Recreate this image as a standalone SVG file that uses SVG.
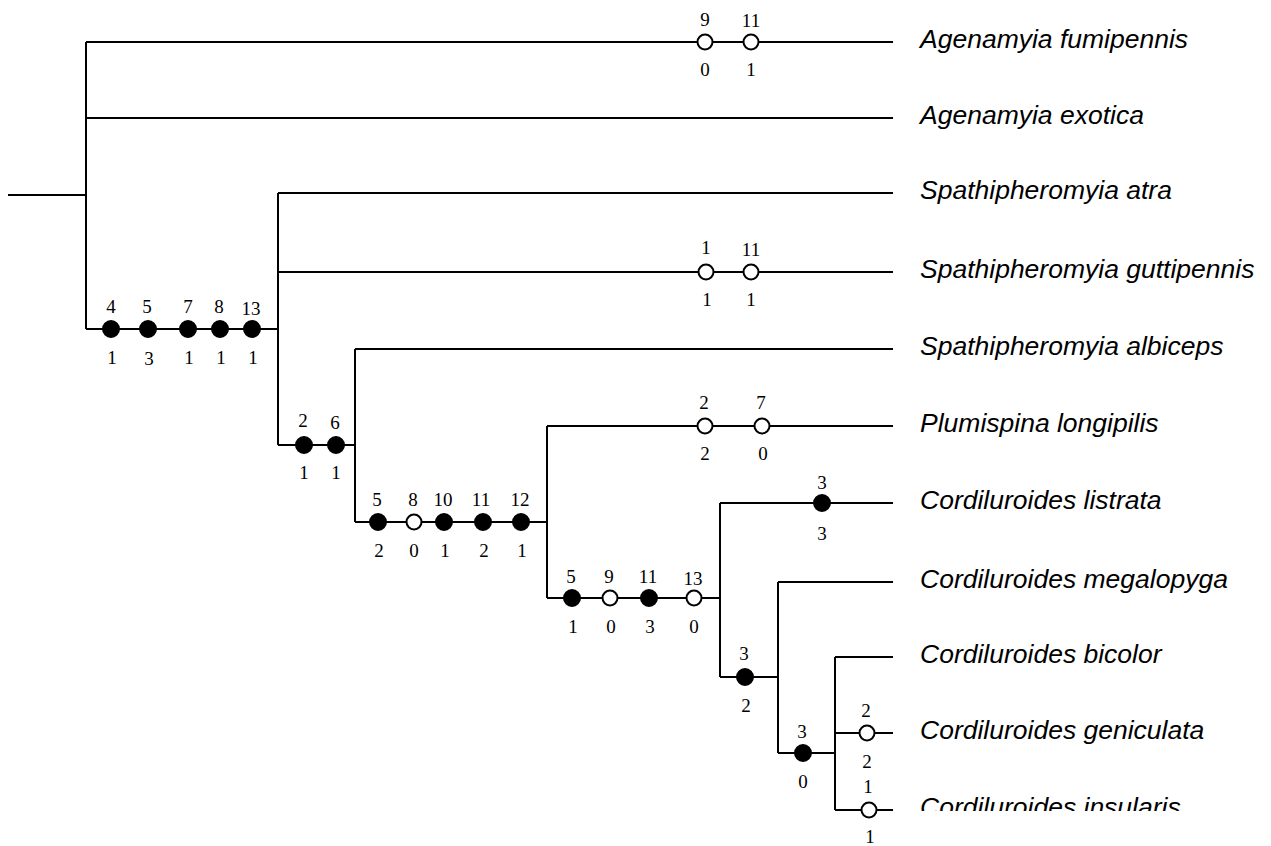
<svg xmlns="http://www.w3.org/2000/svg" width="1271" height="846" viewBox="0 0 1271 846">
<style>
.br{stroke:#000;stroke-width:2;fill:none}
.f{fill:#000;stroke:#000;stroke-width:2}
.o{fill:#fff;stroke:#000;stroke-width:2}
.n{font-family:"Liberation Serif","Times New Roman",serif;font-size:19px;fill:#000;text-anchor:middle}
.t{font-family:"Liberation Sans",Arial,sans-serif;font-style:italic;font-size:26.5px;fill:#000}
</style>
<defs>
<clipPath id="clipBottom"><rect x="0" y="0" width="1271" height="811"/></clipPath>
</defs>
<rect width="1271" height="846" fill="#fff"/>
<g id="connectors" class="br">
<path d="M8,195H86M86,42V329M86,42H893M86,118H893M86,329H278"/>
<path d="M278,193V445M278,193H893M278,272H893M278,445H355"/>
<path d="M355,349V522M355,349H893M355,522H547"/>
<path d="M547,426V598M547,426H893M547,598H720"/>
<path d="M720,503V677M720,503H893M720,677H778"/>
<path d="M778,582V753M778,582H893M778,753H835"/>
<path d="M835,657V810M835,657H893M835,733H893M835,810H893"/>
</g>
<g id="node-fumipennis">
<circle class="o" cx="705" cy="42" r="7.5"/><text class="n" x="705" y="26">9</text><text class="n" x="705" y="76">0</text>
<circle class="o" cx="751" cy="42" r="7.5"/><text class="n" x="751" y="27">11</text><text class="n" x="751" y="76">1</text>
<text class="t" x="920" y="48">Agenamyia fumipennis</text>
</g>
<g id="node-exotica"><text class="t" x="920" y="124">Agenamyia exotica</text></g>
<g id="node-clade1">
<circle class="f" cx="111" cy="329" r="8"/><text class="n" x="111" y="313">4</text><text class="n" x="112" y="364">1</text>
<circle class="f" cx="148" cy="329" r="8"/><text class="n" x="147" y="313">5</text><text class="n" x="149" y="365">3</text>
<circle class="f" cx="188" cy="329" r="8"/><text class="n" x="188" y="313">7</text><text class="n" x="189" y="364">1</text>
<circle class="f" cx="220" cy="329" r="8"/><text class="n" x="219" y="313">8</text><text class="n" x="221" y="364">1</text>
<circle class="f" cx="252" cy="329" r="8"/><text class="n" x="251" y="315">13</text><text class="n" x="253" y="364">1</text>
</g>
<g id="node-atra"><text class="t" x="920" y="199">Spathipheromyia atra</text></g>
<g id="node-guttipennis">
<circle class="o" cx="706" cy="272" r="7.5"/><text class="n" x="706" y="254">1</text><text class="n" x="707" y="306">1</text>
<circle class="o" cx="751" cy="272" r="7.5"/><text class="n" x="751" y="256">11</text><text class="n" x="751" y="306">1</text>
<text class="t" x="920" y="278">Spathipheromyia guttipennis</text>
</g>
<g id="node-clade2">
<circle class="f" cx="304" cy="445" r="8"/><text class="n" x="303" y="427">2</text><text class="n" x="304" y="479">1</text>
<circle class="f" cx="336" cy="445" r="8"/><text class="n" x="335" y="429">6</text><text class="n" x="336" y="479">1</text>
</g>
<g id="node-albiceps"><text class="t" x="920" y="355">Spathipheromyia albiceps</text></g>
<g id="node-clade3">
<circle class="f" cx="378" cy="522" r="8"/><text class="n" x="377" y="506">5</text><text class="n" x="379" y="557">2</text>
<circle class="o" cx="414" cy="522" r="7.5"/><text class="n" x="413" y="506">8</text><text class="n" x="414" y="557">0</text>
<circle class="f" cx="444" cy="522" r="8"/><text class="n" x="443" y="506">10</text><text class="n" x="445" y="557">1</text>
<circle class="f" cx="483" cy="522" r="8"/><text class="n" x="481" y="506">11</text><text class="n" x="484" y="557">2</text>
<circle class="f" cx="521" cy="522" r="8"/><text class="n" x="520" y="506">12</text><text class="n" x="522" y="557">1</text>
</g>
<g id="node-plumispina">
<circle class="o" cx="705" cy="426" r="7.5"/><text class="n" x="704" y="409">2</text><text class="n" x="705" y="460">2</text>
<circle class="o" cx="762" cy="426" r="7.5"/><text class="n" x="761" y="409">7</text><text class="n" x="763" y="460">0</text>
<text class="t" x="920" y="432">Plumispina longipilis</text>
</g>
<g id="node-clade4">
<circle class="f" cx="572" cy="598" r="8"/><text class="n" x="571" y="583">5</text><text class="n" x="573" y="633">1</text>
<circle class="o" cx="610" cy="598" r="7.5"/><text class="n" x="609" y="583">9</text><text class="n" x="611" y="633">0</text>
<circle class="f" cx="649" cy="598" r="8"/><text class="n" x="648" y="583">11</text><text class="n" x="650" y="633">3</text>
<circle class="o" cx="694" cy="598" r="7.5"/><text class="n" x="693" y="585">13</text><text class="n" x="694" y="633">0</text>
</g>
<g id="node-listrata">
<circle class="f" cx="822" cy="503" r="8"/><text class="n" x="822" y="489">3</text><text class="n" x="822" y="540">3</text>
<text class="t" x="920" y="509">Cordiluroides listrata</text>
</g>
<g id="node-clade5">
<circle class="f" cx="745" cy="677" r="8"/><text class="n" x="744" y="660">3</text><text class="n" x="746" y="712">2</text>
</g>
<g id="node-megalopyga"><text class="t" x="920" y="588">Cordiluroides megalopyga</text></g>
<g id="node-clade6">
<circle class="f" cx="803" cy="753" r="8"/><text class="n" x="802" y="738">3</text><text class="n" x="803" y="788">0</text>
</g>
<g id="node-bicolor"><text class="t" x="920" y="663">Cordiluroides bicolor</text></g>
<g id="node-geniculata">
<circle class="o" cx="867" cy="733" r="7.5"/><text class="n" x="866" y="717">2</text><text class="n" x="867" y="768">2</text>
<text class="t" x="920" y="739">Cordiluroides geniculata</text>
</g>
<g id="node-insularis">
<circle class="o" cx="869" cy="810" r="7.5"/><text class="n" x="868" y="793">1</text><text class="n" x="870" y="843">1</text>
<text class="t" x="920" y="816" clip-path="url(#clipBottom)">Cordiluroides insularis</text>
</g>
</svg>
